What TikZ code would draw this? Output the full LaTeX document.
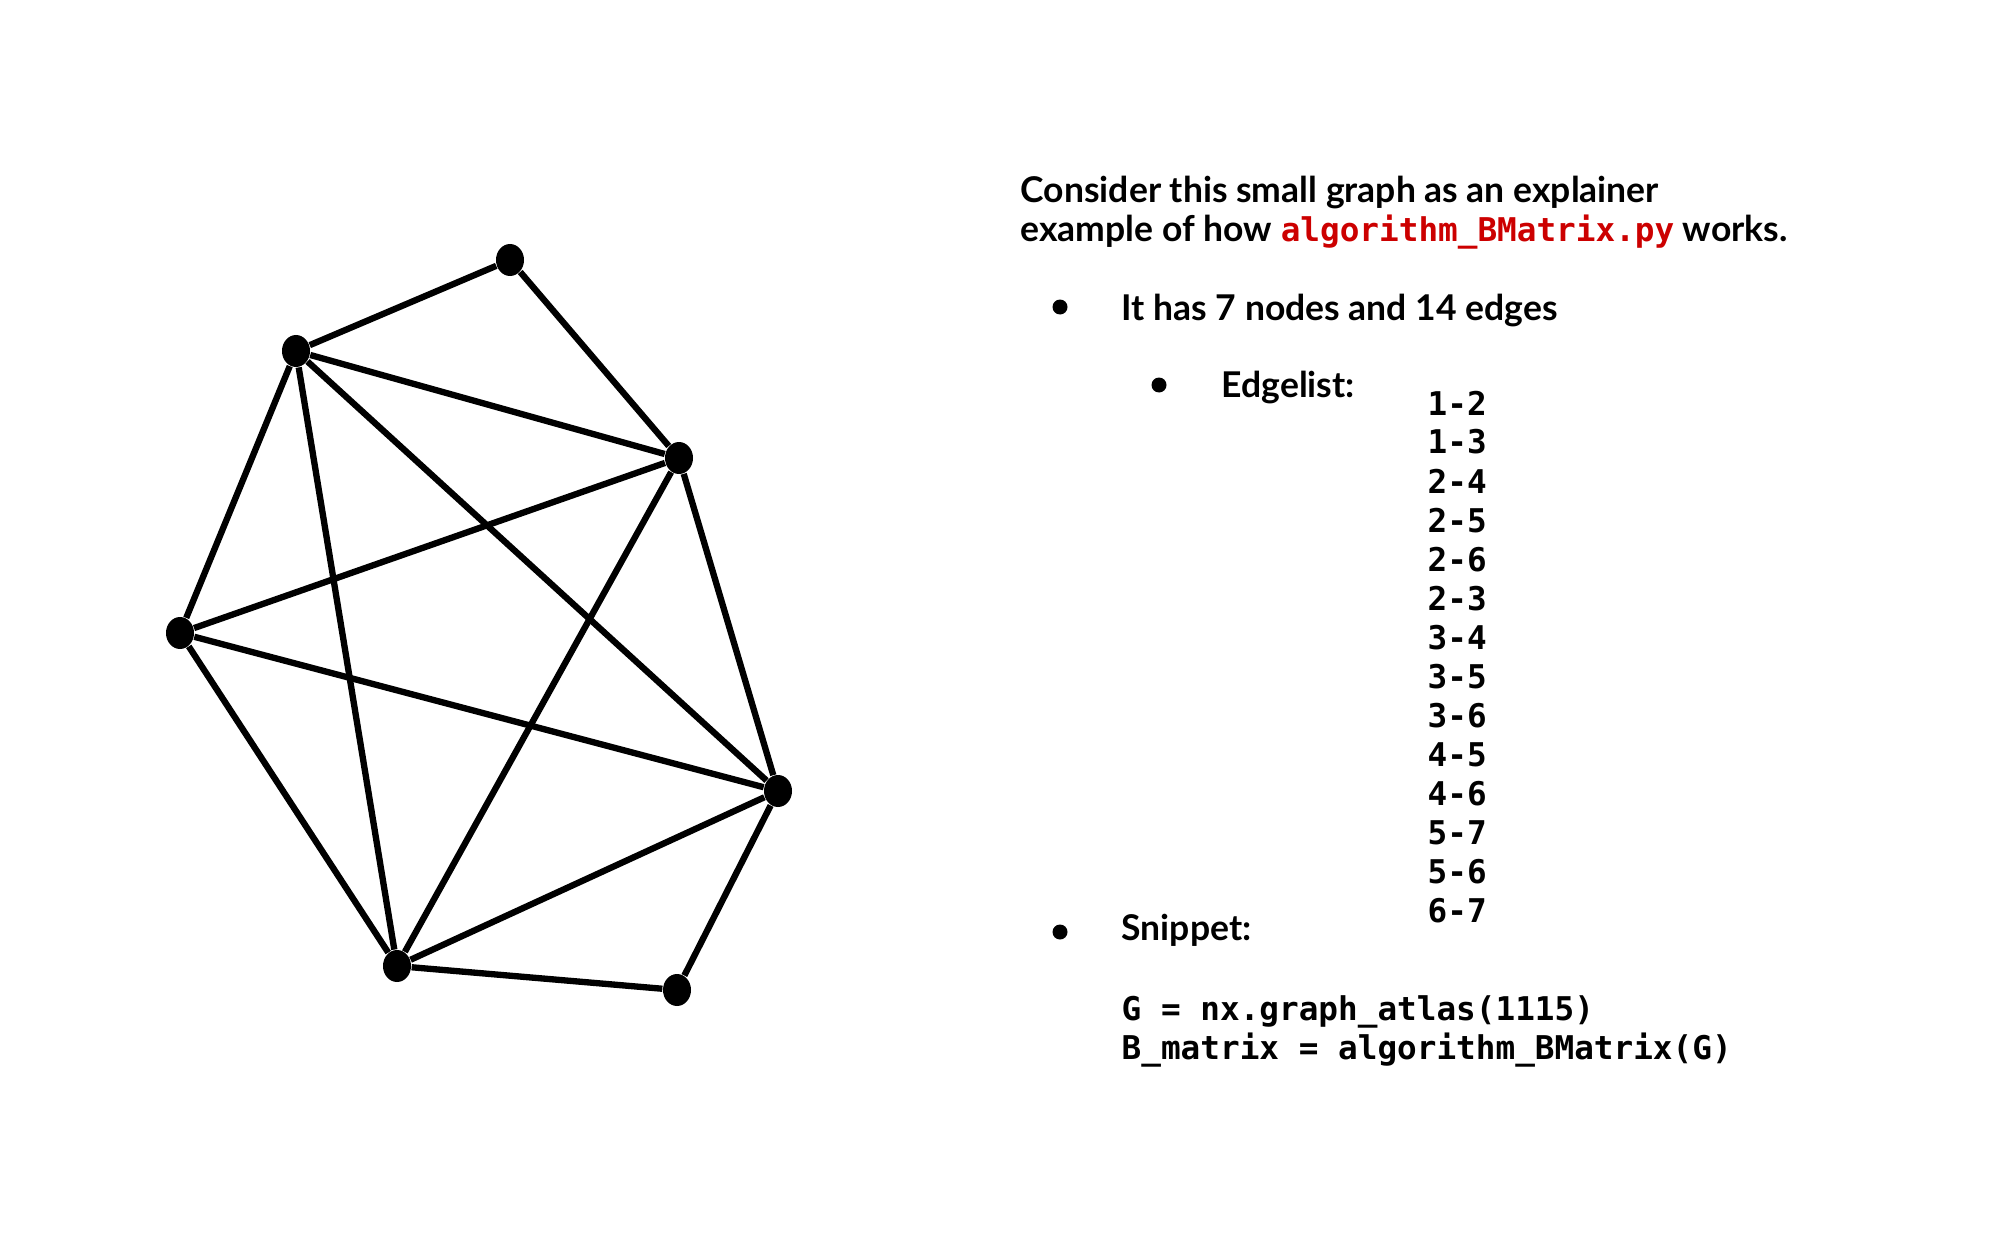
\documentclass[tikz,border=0pt]{standalone}
\usepackage{fontspec}
\setmainfont{Lato}
\setmonofont{DejaVu Sans Mono}
\definecolor{codered}{RGB}{204, 0, 0}
\usetikzlibrary{shapes.geometric}
\newcommand{\codefont}{\ttfamily\bfseries\fontsize{9.3}{11}\selectfont}

\begin{document}
\begin{tikzpicture}[font=\bfseries\fontsize{10.1}{12}\selectfont,
    vertex/.style={ellipse, fill=black, minimum width=0.28cm, minimum height=0.32cm, inner sep=0pt},
    edge/.style={line width=1.8pt},
    dot/.style={circle, fill=black, minimum size=0.15cm, inner sep=0pt},
    txt/.style={anchor=base west, inner sep=0pt},
    code/.style={txt, font=\codefont}]
    \useasboundingbox (0,0) rectangle (20,-12.5);
    % Graph vertices
    \foreach \n/\x/\y in {1/5.10/2.60, 2/2.96/3.51, 3/6.79/4.58, 4/1.80/6.33,
                          5/7.78/7.91, 6/3.97/9.66, 7/6.77/9.90} {
        \node[vertex] (n\n) at (\x, -\y) {};
    }
    % Graph edges
    \foreach \a/\b in {1/2, 1/3, 2/4, 2/5, 2/6, 2/3, 3/4, 3/5, 3/6, 4/5, 4/6, 5/7, 5/6, 6/7} {
        \draw[edge] (n\a) -- (n\b);
    }
    % Explainer text
    \node[txt] (title1) at (10.20, -2.03) {Consider this small graph as an explainer};
    \node[txt] (title2) at (10.20, -2.42) {example of how \textcolor{codered}{\codefont algorithm\_BMatrix.py} works.};
    \node[dot] (b1) at (10.60, -3.07) {};
    \node[txt] (item1) at (11.21, -3.20) {It has 7 nodes and 14 edges};
    \node[dot] (b2) at (11.59, -3.85) {};
    \node[txt] (item2) at (12.21, -3.97) {Edgelist:};
    % Edge list
    \foreach \e [count=\i from 0] in {1-2, 1-3, 2-4, 2-5, 2-6, 2-3, 3-4, 3-5, 3-6, 4-5, 4-6, 5-7, 5-6, 6-7} {
        \node[code] (e\i) at (14.27, {-4.15 - 0.39*\i}) {\e};
    }
    % Snippet
    \node[dot] (b3) at (10.60, -9.32) {};
    \node[txt] (item3) at (11.21, -9.40) {Snippet:};
    \node[code] (line1) at (11.21, -10.20) {G = nx.graph\_atlas(1115)};
    \node[code] (line2) at (11.21, -10.59) {B\_matrix = algorithm\_BMatrix(G)};
\end{tikzpicture}
\end{document}
